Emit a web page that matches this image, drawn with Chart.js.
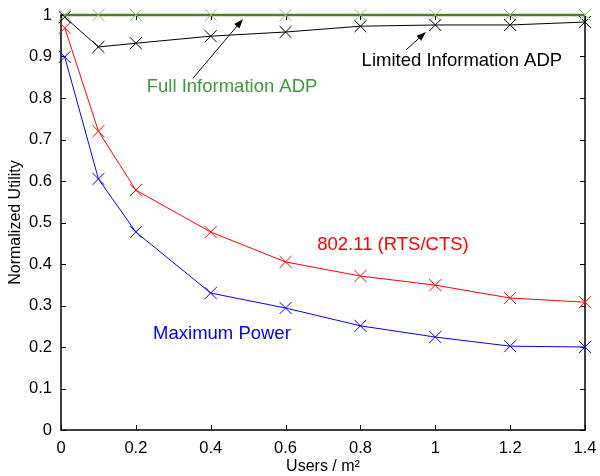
<!DOCTYPE html>
<html>
<head>
<meta charset="utf-8">
<script src="https://cdn.jsdelivr.net/npm/chart.js@4"></script>
<style>
  html, body { margin: 0; padding: 0; background: #fff; }
  #wrap { width: 600px; height: 476px; }
</style>
</head>
<body>
<div id="wrap"><canvas id="utilChart" width="600" height="476"></canvas></div>
<script>
// Data
const density = [0.01, 0.1, 0.2, 0.4, 0.6, 0.8, 1.0, 1.2, 1.4];
const maxPower = [0.899, 0.605, 0.477, 0.330, 0.294, 0.251, 0.224, 0.202, 0.200];
const rtsCts = [0.969, 0.720, 0.578, 0.477, 0.405, 0.371, 0.349, 0.318, 0.308];
const limitedAdp = [0.995, 0.923, 0.932, 0.949, 0.959, 0.973, 0.976, 0.976, 0.983];
const fullAdp = [1, 1, 1, 1, 1, 1, 1, 1, 1];
const xTicks = [0, 0.2, 0.4, 0.6, 0.8, 1, 1.2, 1.4];
const yTicks = [0, 0.1, 0.2, 0.3, 0.4, 0.5, 0.6, 0.7, 0.8, 0.9, 1];

const FONT = '"Liberation Sans", Arial, Helvetica, sans-serif';

// text labels and arrows, placed in data coordinates
const notes = [
    { text: 'Full Information ADP', x: 0.457, y: 0.826, color: '#3c9a3c' },
    { text: 'Limited Information ADP', x: 1.071, y: 0.889, color: '#000' },
    { text: '802.11 (RTS/CTS)', x: 0.887, y: 0.447, color: '#ff0000' },
    { text: 'Maximum Power', x: 0.43, y: 0.232, color: '#0000ff' }
];
const arrows = [
    { from: [0.353, 0.848], to: [0.486, 0.990] },
    { from: [0.922, 0.916], to: [0.975, 0.959] }
];

function toPoints(ys) {
    return density.map((x, i) => ({ x: x, y: ys[i] }));
}

function series(label, ys, lineColor, markColor, width, order) {
    return {
        label: label,
        data: toPoints(ys),
        showLine: true,
        clip: false,
        borderColor: lineColor,
        borderWidth: width,
        pointStyle: 'crossRot',
        pointRadius: 8.5,
        pointBorderWidth: 1,
        pointBorderColor: markColor,
        pointBackgroundColor: markColor,
        pointHoverRadius: 8.5,
        tension: 0,
        order: order
    };
}

const frame = {
    id: 'frame',
    beforeDatasetsDraw(chart) {
        const ctx = chart.ctx;
        const xs = chart.scales.x, ys = chart.scales.y;
        const a = chart.chartArea;
        ctx.save();
        ctx.strokeStyle = '#000';
        ctx.lineWidth = 1;
        // inward ticks on all four sides
        ctx.beginPath();
        xTicks.forEach(v => {
            const px = Math.round(xs.getPixelForValue(v)) + 0.5;
            ctx.moveTo(px, a.bottom); ctx.lineTo(px, a.bottom - 5);
            ctx.moveTo(px, a.top); ctx.lineTo(px, a.top + 5);
        });
        yTicks.forEach(v => {
            const py = Math.round(ys.getPixelForValue(v)) + 0.5;
            ctx.moveTo(a.left, py); ctx.lineTo(a.left + 5, py);
            ctx.moveTo(a.right, py); ctx.lineTo(a.right - 5, py);
        });
        ctx.stroke();
        ctx.lineWidth = 1.5;
        ctx.strokeRect(a.left, a.top, a.right - a.left, a.bottom - a.top);
        ctx.restore();
    },
    afterDatasetsDraw(chart) {
        const ctx = chart.ctx;
        const xs = chart.scales.x, ys = chart.scales.y;
        ctx.save();
        ctx.font = '18.5px ' + FONT;
        ctx.textAlign = 'center';
        ctx.textBaseline = 'middle';
        notes.forEach(n => {
            ctx.fillStyle = n.color;
            ctx.fillText(n.text, xs.getPixelForValue(n.x), ys.getPixelForValue(n.y));
        });

        arrows.forEach(ar => {
            const x0 = xs.getPixelForValue(ar.from[0]), y0 = ys.getPixelForValue(ar.from[1]);
            const x1 = xs.getPixelForValue(ar.to[0]), y1 = ys.getPixelForValue(ar.to[1]);
            const ang = Math.atan2(y1 - y0, x1 - x0);
            ctx.strokeStyle = '#000';
            ctx.fillStyle = '#000';
            ctx.lineWidth = 1;
            ctx.beginPath();
            ctx.moveTo(x0, y0);
            ctx.lineTo(x1 - 8 * Math.cos(ang), y1 - 8 * Math.sin(ang));
            ctx.stroke();
            ctx.beginPath();
            ctx.moveTo(x1, y1);
            ctx.lineTo(x1 - 10 * Math.cos(ang - 0.35), y1 - 10 * Math.sin(ang - 0.35));
            ctx.lineTo(x1 - 10 * Math.cos(ang + 0.35), y1 - 10 * Math.sin(ang + 0.35));
            ctx.closePath();
            ctx.fill();
        });
        ctx.restore();
    }
};

const fmt = v => String(Math.round(v * 10) / 10);

new Chart(document.getElementById('utilChart'), {
    type: 'scatter',
    data: {
        datasets: [
            series('Maximum Power', maxPower, '#0000ff', '#0000ff', 1, 3),
            series('802.11 (RTS/CTS)', rtsCts, '#ff0000', '#ff0000', 1, 2),
            series('Limited Information ADP', limitedAdp, '#000000', '#000000', 1, 1),
            series('Full Information ADP', fullAdp, '#4b7d2b', '#7cc45a', 2.5, 0)
        ]
    },
    options: {
        responsive: false,
        animation: false,
        events: [],
        layout: { padding: { top: 15, right: 15, left: 0, bottom: 0 } },
        plugins: {
            legend: { display: false },
            tooltip: { enabled: false }
        },
        scales: {
            x: {
                type: 'linear',
                min: 0,
                max: 1.4,
                afterBuildTicks: s => { s.ticks = xTicks.map(v => ({ value: v })); },
                afterFit: s => { s.height = 46; s.paddingLeft = 0; s.paddingRight = 0; },
                grid: { display: false, drawTicks: false },
                border: { display: false },
                ticks: {
                    color: '#000',
                    font: { family: FONT, size: 16.5 },
                    padding: 9,
                    maxRotation: 0,
                    callback: fmt
                },
                title: {
                    display: true,
                    text: 'Users / m²',
                    color: '#000',
                    font: { family: FONT, size: 16 },
                    padding: { top: 0, bottom: 0 }
                }
            },
            y: {
                type: 'linear',
                min: 0,
                max: 1,
                afterBuildTicks: s => { s.ticks = yTicks.map(v => ({ value: v })); },
                afterFit: s => { s.width = 61; s.paddingTop = 0; s.paddingBottom = 0; },
                grid: { display: false, drawTicks: false },
                border: { display: false },
                ticks: {
                    color: '#000',
                    font: { family: FONT, size: 16.5 },
                    padding: 9,
                    callback: fmt
                },
                title: {
                    display: true,
                    text: 'Normalized Utility',
                    color: '#000',
                    font: { family: FONT, size: 16 },
                    padding: { top: 6, bottom: 0 }
                }
            }
        }
    },
    plugins: [frame]
});
</script>
</body>
</html>
